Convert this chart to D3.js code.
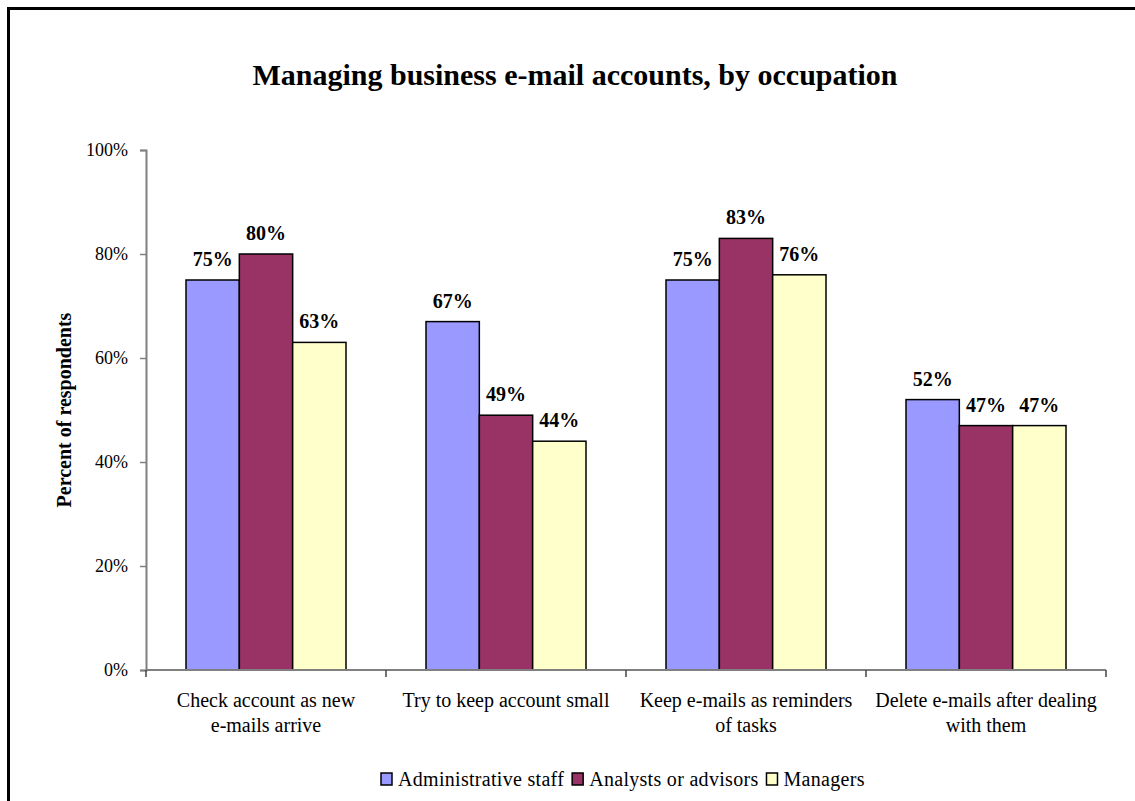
<!DOCTYPE html>
<html>
<head>
<meta charset="utf-8">
<script src="https://cdn.jsdelivr.net/npm/d3@7"></script>
<style>
  body { margin: 0; background: #fff; }
</style>
</head>
<body>
<svg id="chart" width="1135" height="801" font-family="'Liberation Serif', 'Times New Roman', Tinos, 'DejaVu Serif', serif"></svg>
<script>
// chart data
const categories = [
    ["Check account as new", "e-mails arrive"],
    ["Try to keep account small"],
    ["Keep e-mails as reminders", "of tasks"],
    ["Delete e-mails after dealing", "with them"]
];
const seriesNames = ["Administrative staff", "Analysts or advisors", "Managers"];
const adminValues = [75, 67, 75, 52];
const analystValues = [80, 49, 83, 47];
const managerValues = [63, 44, 76, 47];
const yTicks = [0, 20, 40, 60, 80, 100];

const seriesValues = [adminValues, analystValues, managerValues];
const colors = ["#9999FF", "#993366", "#FFFFCC"];
const serif = "'Liberation Serif', 'Times New Roman', Tinos, 'DejaVu Serif', serif";

const svg = d3.select("#chart");

// outer frame (only left and top edges are inside the window)
svg.append("rect")
    .attr("x", 8.5).attr("y", 8.5)
    .attr("width", 1140).attr("height", 810)
    .attr("fill", "none")
    .attr("stroke", "black")
    .attr("stroke-width", 3);

const plot = { left: 146, right: 1106, top: 150, bottom: 670 };

const x0 = d3.scaleBand()
    .domain(d3.range(categories.length))
    .range([plot.left, plot.right])
    .padding(0);

const x1 = d3.scaleBand()
    .domain(d3.range(seriesNames.length))
    .range([0, x0.bandwidth()])
    .paddingInner(0)
    .paddingOuter(0.75);

const y = d3.scaleLinear()
    .domain([0, 100])
    .range([plot.bottom, plot.top]);

// title
svg.append("text")
    .attr("x", 575).attr("y", 85)
    .attr("text-anchor", "middle")
    .attr("font-family", serif)
    .style("font-size", "30px")
    .style("font-weight", "bold")
    .text("Managing business e-mail accounts, by occupation");

// y axis
const yAxis = svg.append("g")
    .attr("transform", `translate(${plot.left},0)`)
    .call(d3.axisLeft(y).tickValues(yTicks).tickFormat(d => d + "%").tickSize(6).tickPadding(12));
yAxis.attr("font-family", serif).attr("font-size", 18);
yAxis.select(".domain").attr("stroke", "#808080").attr("stroke-width", 2);
yAxis.selectAll(".tick line").attr("stroke", "#808080").attr("stroke-width", 1.5);
yAxis.selectAll(".tick text").attr("fill", "#000");

svg.append("text")
    .attr("transform", "translate(71,410) rotate(-90)")
    .attr("text-anchor", "middle")
    .attr("font-family", serif)
    .style("font-size", "20px")
    .style("font-weight", "bold")
    .text("Percent of respondents");

// bars
const groups = svg.selectAll("g.group")
    .data(categories)
    .join("g")
    .attr("class", "group")
    .attr("font-family", serif)
    .attr("transform", (d, i) => `translate(${x0(i)},0)`);

groups.each(function(c, ci) {
    const g = d3.select(this);
    seriesValues.forEach((vals, si) => {
        const v = vals[ci];
        g.append("rect")
            .attr("x", x1(si))
            .attr("y", y(v))
            .attr("width", x1.bandwidth())
            .attr("height", y(0) - y(v))
            .attr("fill", colors[si])
            .attr("stroke", "#000")
            .attr("stroke-width", 1.5);
        g.append("text")
            .attr("x", x1(si) + x1.bandwidth() / 2)
            .attr("y", y(v) - 14)
            .attr("text-anchor", "middle")
            .style("font-size", "20px")
            .style("font-weight", "bold")
            .text(v + "%");
    });
});

// x axis line + ticks at category boundaries
svg.append("line")
    .attr("x1", plot.left).attr("x2", plot.right)
    .attr("y1", plot.bottom).attr("y2", plot.bottom)
    .attr("stroke", "#808080").attr("stroke-width", 2);
const boundaries = d3.range(categories.length + 1).map(i => plot.left + i * x0.step());
svg.selectAll("line.xtick")
    .data(boundaries)
    .join("line")
    .attr("class", "xtick")
    .attr("x1", d => d).attr("x2", d => d)
    .attr("y1", plot.bottom).attr("y2", plot.bottom + 7)
    .attr("stroke", "#444").attr("stroke-width", 1.5);

// category labels
groups.append("text")
    .attr("x", x0.bandwidth() / 2)
    .attr("y", 707)
    .attr("text-anchor", "middle")
    .style("font-size", "20px")
    .each(function(lines) {
        const t = d3.select(this);
        lines.forEach((ln, i) => {
            t.append("tspan")
                .attr("x", x0.bandwidth() / 2)
                .attr("dy", i === 0 ? 0 : 25)
                .text(ln);
        });
    });

// legend
const legend = svg.append("g")
    .attr("font-family", serif)
    .attr("transform", "translate(381,779)");
let lx = 0;
seriesNames.forEach((name, i) => {
    legend.append("rect")
        .attr("x", lx).attr("y", -6)
        .attr("width", 11).attr("height", 12)
        .attr("fill", colors[i])
        .attr("stroke", "#000").attr("stroke-width", 1.5);
    const t = legend.append("text")
        .attr("x", lx + 17).attr("y", 7)
        .style("font-size", "20px")
        .style("letter-spacing", "0.3px")
        .text(name);
    lx += 17 + t.node().getComputedTextLength() + 8;
});
</script>
</body>
</html>
